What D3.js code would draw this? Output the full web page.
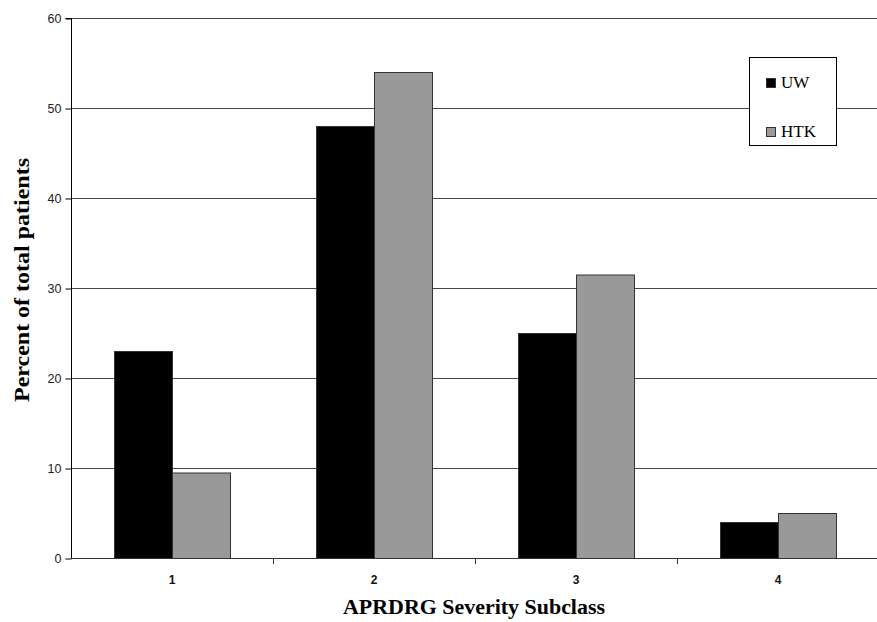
<!DOCTYPE html>
<html><head><meta charset="utf-8">
<script src="https://cdn.jsdelivr.net/npm/d3@7"></script>
<style>body{margin:0;background:#fff}</style>
</head><body>
<svg id="c" width="877" height="622"></svg>
<script>
const categories = ["1","2","3","4"];
const seriesNames = ["UW","HTK"];
const uwValues = [23, 48, 25, 4];
const htkValues = [9.5, 54, 31.5, 5];
const yTicks = [0,10,20,30,40,50,60];

const colors = {UW:"#000000", HTK:"#999999"};
const svg = d3.select("#c");
const m = {l:71, t:18};
const W = 877, H = 622;
const x = d3.scaleBand().domain(categories).range([m.l, 879]).paddingInner(0).paddingOuter(0);
const y = d3.scaleLinear().domain([0,60]).range([558, 18]);
const barW = 58;
const data = categories.map((c,i)=>({c, UW:uwValues[i], HTK:htkValues[i]}));

// gridlines
svg.append("g").selectAll("line").data(yTicks.filter(d=>d>0)).join("line")
  .attr("x1", m.l).attr("x2", W).attr("y1", d=>y(d)+0.5).attr("y2", d=>y(d)+0.5)
  .attr("stroke","#444").attr("stroke-width",1);

// bars
const g = svg.append("g");
data.forEach(d=>{
  const cx = x(d.c) + x.bandwidth()/2;
  seriesNames.forEach((s,j)=>{
    const x0 = cx - barW + j*barW;
    g.append("rect").attr("x", x0+0.5).attr("y", y(d[s])+0.5)
      .attr("width", barW).attr("height", y(0)-y(d[s]))
      .attr("fill", colors[s]).attr("stroke","#333").attr("stroke-width",1);
  });
});

// y axis
const ya = svg.append("g").attr("transform",`translate(${m.l+0.5},0.5)`)
  .call(d3.axisLeft(y).tickValues(yTicks).tickSize(6).tickPadding(4).tickFormat(d3.format("d")));
ya.select(".domain").attr("stroke","#000").attr("d", `M-6,${y(60)}H0V${y(0)}`);
ya.selectAll(".tick line").attr("stroke","#000");
ya.selectAll(".tick text").attr("font-family","Liberation Sans, Arial, sans-serif").attr("font-size",12.5).attr("fill","#222");

// x axis
const xa = svg.append("g").attr("transform",`translate(0,${y(0)+0.5})`)
  .call(d3.axisBottom(x).tickSize(0).tickPadding(17));
xa.select(".domain").attr("stroke","#333").attr("d", `M${m.l},0H${W}`);
xa.selectAll(".tick text").attr("font-family","Liberation Sans, Arial, sans-serif").attr("font-size",12).attr("font-weight","bold").attr("fill","#111");
svg.append("g").selectAll("line").data(categories.slice(1)).join("line")
  .attr("x1", d=>x(d)+0.5).attr("x2", d=>x(d)+0.5).attr("y1", y(0)).attr("y2", y(0)+6)
  .attr("stroke","#333");

// axis titles
svg.append("text").attr("x", 474).attr("y", 614).attr("text-anchor","middle")
  .attr("font-family","Liberation Serif, Times New Roman, serif").attr("font-weight","bold").attr("font-size",20)
  .attr("textLength",262).attr("lengthAdjust","spacingAndGlyphs")
  .text("APRDRG Severity Subclass");
svg.append("text").attr("transform","translate(29,280) rotate(-90)").attr("text-anchor","middle")
  .attr("font-family","Liberation Serif, Times New Roman, serif").attr("font-weight","bold").attr("font-size",20)
  .attr("textLength",244).attr("lengthAdjust","spacingAndGlyphs")
  .text("Percent of total patients");

// legend
const lg = svg.append("g");
lg.append("rect").attr("x",749.5).attr("y",57.5).attr("width",87).attr("height",88)
  .attr("fill","#fff").attr("stroke","#000");
seriesNames.forEach((s,i)=>{
  const yy = 78 + i*49;
  lg.append("rect").attr("x",766.5).attr("y",yy+0.5).attr("width",9).attr("height",9)
    .attr("fill",colors[s]).attr("stroke","#333");
  lg.append("text").attr("x",781).attr("y",yy+10).attr("font-family","Liberation Serif, Times New Roman, serif")
    .attr("font-size",17).attr("fill","#000").text(s);
});
</script>
</body></html>
